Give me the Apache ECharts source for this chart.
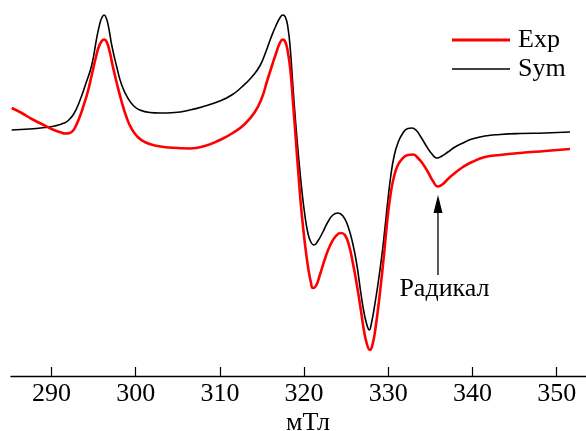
<!DOCTYPE html>
<html>
<head>
<meta charset="utf-8">
<script src="https://cdn.jsdelivr.net/npm/echarts@6/dist/echarts.min.js"></script>
<style>
html,body{margin:0;padding:0;background:#fff;}
#chart{width:586px;height:431px;}
</style>
</head>
<body>
<div id="chart"></div>
<script>
// Field values (mT) and signal (arbitrary units)
const symField = [285.27,287.41,289.19,290.38,291.21,291.93,292.64,293.35,294.06,294.78,295.37,295.73,295.97,296.24,296.50,296.80,297.15,297.75,298.34,299.06,299.77,300.48,301.67,302.86,304.64,306.42,308.21,309.99,311.41,312.60,313.79,314.74,315.45,316.05,316.64,317.12,317.47,317.77,318.07,318.37,318.66,319.02,319.38,319.73,320.09,320.45,320.80,321.16,321.63,322.23,322.82,323.42,324.01,324.61,325.20,325.79,326.27,326.74,327.22,327.58,327.75,327.93,328.29,328.76,329.24,329.60,329.95,330.31,330.67,331.14,331.74,332.33,332.80,333.28,333.87,334.59,335.18,335.78,336.37,337.08,337.92,338.87,339.94,341.48,343.26,345.64,348.61,351.58];
const symSignal = [0,1,2.5,4,6,9,16,29,46,65,92,106,112,115,112,102,85,63,45,32,24,20,17.5,17,17.5,20,24,29,35,43,53,64,78,92,104,112,115,113,103,80,45,5,-30,-60,-85,-103,-112,-115,-111,-102,-92,-85,-83,-86,-96,-114,-135,-163,-187,-198,-200,-196,-180,-155,-125,-98,-70,-45,-27,-13,-3,1.5,2,0,-7,-17,-24,-28,-26,-22,-17,-13,-9,-6,-4.5,-3.5,-3,-2];

const expField = [285.27,286.46,287.65,288.84,290.02,290.97,291.69,292.16,292.52,292.88,293.35,293.83,294.30,294.78,295.25,295.61,295.97,296.26,296.56,296.92,297.27,297.75,298.34,298.94,299.53,300.24,301.08,302.26,304.05,306.42,308.21,309.99,311.53,312.96,314.15,314.98,315.57,316.17,316.64,317.12,317.47,317.77,318.07,318.37,318.66,319.02,319.38,319.73,320.09,320.45,320.80,321.04,321.40,321.87,322.47,323.06,323.77,324.37,324.84,325.32,325.79,326.27,326.74,327.10,327.46,327.81,328.17,328.53,328.88,329.24,329.60,329.95,330.31,330.67,331.14,331.74,332.33,332.92,333.52,334.11,334.71,335.30,335.89,336.49,337.08,337.92,338.87,339.94,341.48,343.26,345.64,348.61,351.58];
const expSignal = [22,17,11,6,1,-2,-3.5,-3,-1,4,13,25,38,55,72,83,89,90.5,88,78,64,47,28,12,1,-7,-12,-15.5,-17.5,-18.5,-16,-10,-3,6,18,32,48,64,76,87,90.5,88,78,60,30,-10,-50,-85,-113,-136,-152,-158,-156,-145,-129,-116,-106,-103,-105,-115,-133,-155,-180,-200,-214,-220,-213,-195,-172,-145,-115,-85,-62,-47,-35,-28,-25,-24.5,-28,-34,-42,-51,-56.5,-54,-49,-43,-37,-32,-27,-25,-23,-21,-19];

const tickValues = [290,300,310,320,330,340,350];
const seriesNames = ['Exp','Sym'];
const axisTitle = 'мТл';

// Annotation (field, signal)
const annotText = 'Радикал';
const arrowTip = [335.9, -65];
const arrowBase = [335.9, -145];
const annotPos = [336.67, -159];

const FONT = '"Liberation Serif", "Times New Roman", serif';

function zip(a,b){ return a.map((v,i)=>[v,b[i]]); }

const chart = echarts.init(document.getElementById('chart'), null, {renderer:'canvas'});
chart.setOption({
  animation:false,
  backgroundColor:'#fff',
  grid:{left:11,right:0,top:0,bottom:55,containLabel:false,outerBoundsMode:'none'},
  legend:{
    data:[
      {name:seriesNames[0],icon:'path://M0,0L58,0L58,3L0,3Z'},
      {name:seriesNames[1],icon:'path://M0,0L58,0L58,1.6L0,1.6Z'}
    ],
    orient:'vertical',
    left:452, top:27,
    itemWidth:58, itemHeight:14, itemGap:3,
    padding:0,
    textStyle:{fontFamily:FONT,fontSize:26,color:'#000',padding:[0,0,0,3]}
  },
  xAxis:{
    type:'value',
    min:285.19, max:353.48,
    name:axisTitle,
    nameLocation:'middle',
    nameGap:34,
    nameMoveOverlap:false,
    nameTextStyle:{fontFamily:FONT,fontSize:26,color:'#000',padding:[0,0,0,19]},
    axisLine:{show:true,onZero:false,lineStyle:{color:'#000',width:1.3}},
    axisTick:{show:true,inside:true,length:9,customValues:tickValues,lineStyle:{color:'#000',width:1.2}},
    axisLabel:{show:true,customValues:tickValues,margin:5,fontFamily:FONT,fontSize:26,color:'#000'},
    splitLine:{show:false}
  },
  yAxis:{type:'value',min:-246,max:130,show:false,splitLine:{show:false}},
  series:[
    {name:'Sym',type:'line',data:zip(symField,symSignal),symbol:'none',smooth:0.5,
     lineStyle:{color:'#000',width:1.6},itemStyle:{color:'#000'},z:2},
    {name:'Exp',type:'line',data:zip(expField,expSignal),symbol:'none',smooth:0.5,
     lineStyle:{color:'#ff0000',width:2.6},itemStyle:{color:'#ff0000'},z:3}
  ]
});

const tip = chart.convertToPixel({gridIndex:0}, arrowTip);
const base = chart.convertToPixel({gridIndex:0}, arrowBase);
const tp = chart.convertToPixel({gridIndex:0}, annotPos);
const headLen = 18, headW = 9;
chart.setOption({
  graphic:[
    {type:'line',shape:{x1:base[0],y1:base[1],x2:tip[0],y2:tip[1]+headLen-2},style:{stroke:'#000',lineWidth:1.3},z:10},
    {type:'polygon',shape:{points:[[tip[0],tip[1]],[tip[0]-headW/2,tip[1]+headLen],[tip[0]+headW/2,tip[1]+headLen]]},style:{fill:'#000'},z:10},
    {type:'text',x:tp[0],y:tp[1],style:{text:annotText,font:'26px '+FONT,fill:'#000',align:'center',verticalAlign:'middle'},z:10}
  ]
});
</script>
</body>
</html>
